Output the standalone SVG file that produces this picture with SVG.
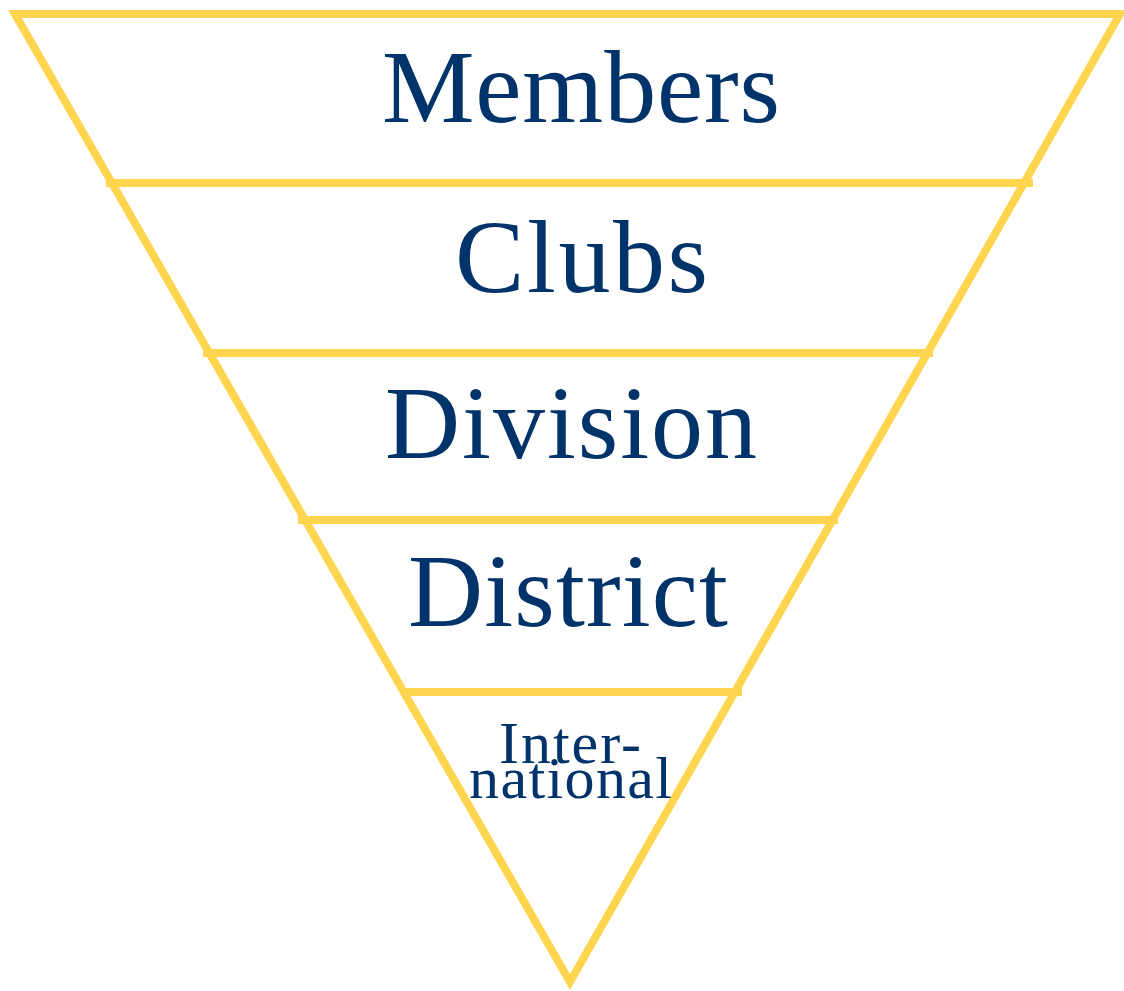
<svg xmlns="http://www.w3.org/2000/svg" width="1124" height="991" viewBox="0 0 1124 991">
<style>
.edge{fill:none;stroke:#FFD54F;stroke-width:8;stroke-linejoin:miter;stroke-miterlimit:10}
.lbl{font-family:"Liberation Serif","DejaVu Serif",serif;fill:#00336A;text-anchor:middle}
</style>
<rect width="1124" height="991" fill="#FFFFFF"/>
<g id="connectors">
<polygon class="edge" points="15,14 1120,14 570,982"/>
<line class="edge" x1="106" y1="183" x2="1033" y2="183"/>
<line class="edge" x1="203" y1="353" x2="933" y2="353"/>
<line class="edge" x1="298" y1="520" x2="838" y2="520"/>
<line class="edge" x1="403" y1="692" x2="742" y2="692"/>
</g>
<g id="members"><text class="lbl" x="581" y="122" font-size="104" textLength="398">Members</text></g>
<g id="clubs"><text class="lbl" x="581.5" y="292" font-size="104" textLength="253">Clubs</text></g>
<g id="division"><text class="lbl" x="571" y="458" font-size="104" textLength="372">Division</text></g>
<g id="district"><text class="lbl" x="568" y="626" font-size="104" textLength="320">District</text></g>
<g id="international"><text class="lbl" font-size="60"><tspan x="570" y="763" textLength="142">Inter-</tspan><tspan x="570.5" y="798" textLength="203">national</tspan></text></g>
</svg>
